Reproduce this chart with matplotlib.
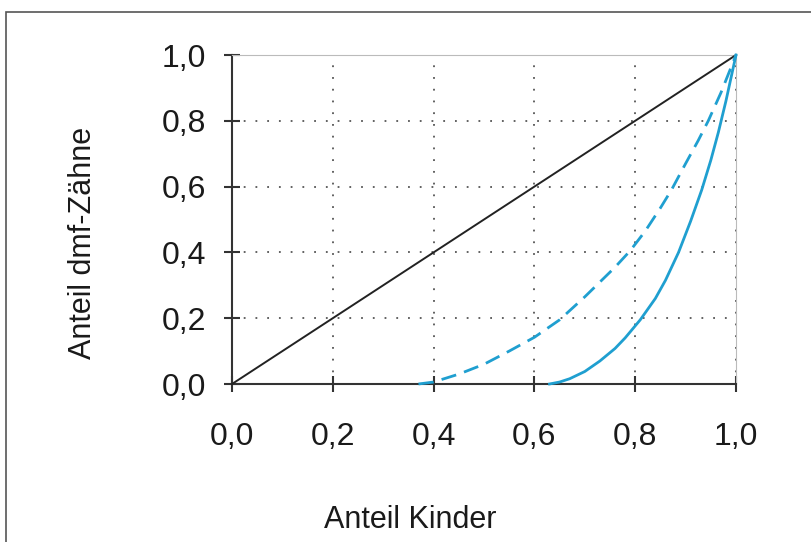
import matplotlib
matplotlib.use("Agg")
import matplotlib.pyplot as plt
from matplotlib.patches import Rectangle

plt.rcParams["font.family"] = ["Liberation Sans", "DejaVu Sans"]

# Gleichverteilung (Diagonale)
gleich_x = [0.0, 1.0]
gleich_y = [0.0, 1.0]

# gestrichelte Kurve
kurve1_x = [0.37, 0.40, 0.45, 0.50, 0.55, 0.60, 0.65, 0.70, 0.73, 0.76, 0.79,
            0.82, 0.85, 0.872, 0.90, 0.925, 0.945, 0.97, 1.00]
kurve1_y = [0.00, 0.006, 0.03, 0.06, 0.10, 0.142, 0.195, 0.265, 0.31, 0.355, 0.405,
            0.465, 0.535, 0.59, 0.67, 0.74, 0.80, 0.885, 1.00]

# durchgezogene Kurve
kurve2_x = [0.63, 0.65, 0.67, 0.70, 0.73, 0.76, 0.78, 0.81, 0.84, 0.86, 0.886,
            0.91, 0.932, 0.95, 0.965, 0.98, 1.00]
kurve2_y = [0.00, 0.006, 0.016, 0.038, 0.07, 0.108, 0.14, 0.195, 0.26, 0.315, 0.40,
            0.495, 0.59, 0.68, 0.765, 0.86, 1.00]

ticks = [0.0, 0.2, 0.4, 0.6, 0.8, 1.0]
tick_labels = ["0,0", "0,2", "0,4", "0,6", "0,8", "1,0"]

blue = "#1f9fd0"
W, H = 812, 542

fig = plt.figure(figsize=(W / 100, H / 100), dpi=100)
fig.patch.set_facecolor("white")

# Rahmen um die Grafik (rechts und unten abgeschnitten)
fig.patches.append(Rectangle((6 / W, -0.05), 1.2, 1 - 12 / H + 0.05,
                             transform=fig.transFigure, fill=False,
                             edgecolor="#555555", linewidth=1.2))

ax = fig.add_axes([232 / W, (H - 384) / H, 504 / W, 329 / H])
ax.set_xlim(0, 1)
ax.set_ylim(0, 1)

for v in ticks[1:]:
    ax.axvline(v, color="#555555", linestyle=(0, (1, 5.5)), linewidth=1.3, zorder=1)
    ax.axhline(v, color="#555555", linestyle=(0, (1, 5.5)), linewidth=1.3, zorder=1)

ax.plot(gleich_x, gleich_y, color="#222222", linewidth=1.4, zorder=3, clip_on=False)
ax.plot(kurve1_x, kurve1_y, color=blue, linewidth=2.0, linestyle=(0, (5.5, 3)),
        zorder=3, clip_on=False)
ax.plot(kurve2_x, kurve2_y, color=blue, linewidth=2.0, zorder=3, clip_on=False)

for s in ["left", "bottom"]:
    ax.spines[s].set_color("#333333")
    ax.spines[s].set_linewidth(1.5)
for s in ["top", "right"]:
    ax.spines[s].set_color("#bbbbbb")
    ax.spines[s].set_linewidth(0.8)

ax.set_xticks(ticks)
ax.set_xticklabels(tick_labels)
ax.set_yticks(ticks)
ax.set_yticklabels(tick_labels)
ax.tick_params(direction="inout", length=11, width=1.5, color="#333333",
               labelsize=23, labelcolor="#1a1a1a")
ax.tick_params(axis="x", pad=22)
ax.tick_params(axis="y", pad=13)

fig.text(410 / W, 1 - 520 / H, "Anteil Kinder", ha="center", va="center",
         fontsize=22, color="#1a1a1a")
fig.text(83 / W, 1 - 243 / H, "Anteil dmf-Zähne", ha="center", va="center",
         rotation=90, fontsize=22, color="#1a1a1a")

fig.savefig("out.png", dpi=100)
